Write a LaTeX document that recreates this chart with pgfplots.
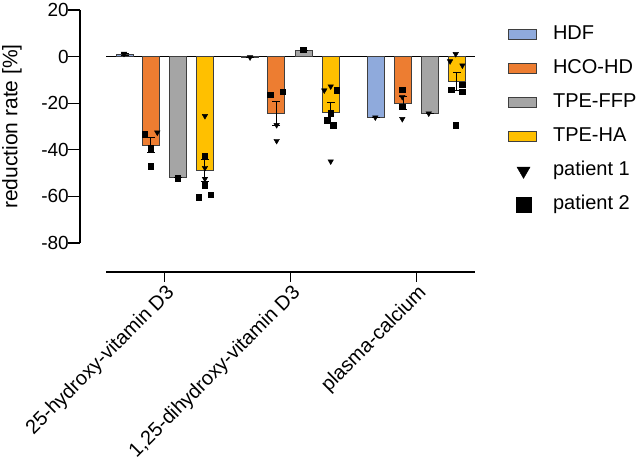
\documentclass[border=0pt]{standalone}
\usepackage{fontspec}
\setmainfont{Liberation Sans}
\usepackage{pgfplots}
\usepackage{pgfplotstable}
\pgfplotsset{compat=1.18}
\definecolor{cHDF}{HTML}{8FAADC}
\definecolor{cHCO}{HTML}{ED7D31}
\definecolor{cFFP}{HTML}{A5A5A5}
\definecolor{cHA}{HTML}{FFC000}
\definecolor{bdr}{HTML}{3F3F3F}
\pgfplotsset{
  boxleg/.style={legend image code/.code={\draw[##1] (0pt,-5pt) rectangle (28pt,5pt);}},
  markleg/.style={legend image code/.code={\draw[##1, only marks] plot coordinates {(15pt,0pt)};}},
  barst/.style={ybar, bar width=17pt, bar shift=0pt, draw=bdr, line width=1pt, forget plot,
    error bars/.cd, y dir=both, y explicit,
    error bar style={black, line width=1pt},
    error mark options={rotate=90, black, mark size=4pt, line width=1pt}}
}

\pgfplotstableread{
x y e
-0.319 1.0 0.4
0.677 -0.3 0
1.676 -26.1 0
}\tHDF
\pgfplotstableread{
x y e
-0.109 -38.0 3.3
0.883 -24.3 5.1
1.891 -20.0 2.7
}\tHCO
\pgfplotstableread{
x y e
0.105 -52.0 0
1.105 2.7 0
2.105 -24.4 0
}\tFFP
\pgfplotstableread{
x y e
0.319 -49.0 4.6
1.319 -24.0 4.3
2.319 -10.8 3.9
}\tHA
\pgfplotstableread{
x y
-0.323 1.2
-0.059 -32.6
0.319 -25.5
0.319 -47.8
0.319 -52.5
0.677 -0.3
0.888 -29.4
0.888 -36.2
1.266 -14.5
1.317 -12.8
1.317 -45.0
1.671 -26.1
1.885 -17.3
1.885 -26.8
2.095 -24.4
2.309 1.1
2.264 -2.0
2.362 -3.8
}\tPone
\pgfplotstableread{
x y
-0.157 -33.3
-0.109 -39.3
-0.109 -47.0
0.103 -52.3
0.319 -42.6
0.319 -55.3
0.269 -60.3
0.367 -59.4
0.838 -16.3
0.936 -15.2
1.100 2.9
1.365 -14.5
1.317 -24.4
1.285 -27.3
1.338 -29.4
1.885 -14.2
1.885 -21.6
2.362 -12.0
2.272 -14.2
2.362 -15.2
2.309 -29.4
}\tPtwo

\begin{document}
\begin{tikzpicture}
\path[use as bounding box] (0,0) rectangle (641pt,460pt);
% y axis
\begin{axis}[at={(80pt,217pt)}, anchor=south west, scale only axis,
  width=10pt, height=233pt, xmin=0, xmax=1, ymin=-80, ymax=20,
  hide x axis, axis y line*=left,
  axis line style={-, line width=1.2pt, black},
  ytick={-80,-60,...,20}, tick align=outside, major tick length=12pt,
  tick style={line width=1.2pt, black},
  /pgf/number format/assume math mode=true,
  y tick label style={font=\fontsize{19}{22}\selectfont, inner sep=1pt, xshift=2pt},
  ylabel={reduction rate [\%]},
  ylabel style={font=\fontsize{21}{24}\selectfont, at={(axis description cs:0,0.5)}, anchor=center, yshift=68pt},
  clip=false]
\addplot[draw=none] coordinates {(0.5,0)};
\draw[line width=1.2pt, black] (rel axis cs:0,0) -- (rel axis cs:0,1);
\end{axis}
% data axis
\begin{axis}[at={(106pt,188pt)}, anchor=south west, scale only axis,
  width=369pt, height=262pt, xmin=-0.466, xmax=2.462, ymin=-92.5, ymax=20,
  axis x line=bottom, axis y line=none,
  axis line style={-, line width=1.2pt, black},
  xtick={0,1,2},
  xticklabels={25-hydroxy-vitamin D3,{1,25-dihydroxy-vitamin D3},plasma-calcium},
  tick align=outside, major tick length=10pt,
  tick style={line width=1.2pt, black},
  x tick label style={rotate=45, anchor=north east, font=\fontsize{20}{24}\selectfont, inner sep=1pt},
  clip=false,
  legend style={at={(1.089,0.94)}, anchor=north west, draw=none, fill=none,
    font=\fontsize{20}{24}\selectfont, inner sep=0pt, row sep=16pt,
    nodes={inner sep=0pt, text height=14pt, text depth=4pt},
    column sep=16pt},
  legend cell align=left]
\addplot[black, line width=1.2pt, forget plot] coordinates {(-0.466,0) (2.462,0)};
\addplot[fill=cHDF, barst] table[x=x, y=y, y error=e] {\tHDF};
\addplot[fill=cHCO, barst] table[x=x, y=y, y error=e] {\tHCO};
\addplot[fill=cFFP, barst] table[x=x, y=y, y error=e] {\tFFP};
\addplot[fill=cHA, barst] table[x=x, y=y, y error=e] {\tHA};
\addplot[only marks, mark=triangle*, mark size=3.2pt, mark options={rotate=180, fill=black, draw=black}, forget plot] table[x=x, y=y] {\tPone};
\addplot[only marks, mark=square*, mark size=2.7pt, mark options={fill=black, draw=black}, forget plot] table[x=x, y=y] {\tPtwo};
\addlegendimage{fill=cHDF, draw=bdr, line width=1pt, boxleg}
\addlegendimage{fill=cHCO, draw=bdr, line width=1pt, boxleg}
\addlegendimage{fill=cFFP, draw=bdr, line width=1pt, boxleg}
\addlegendimage{fill=cHA, draw=bdr, line width=1pt, boxleg}
\addlegendimage{black, mark=triangle*, mark size=7.5pt, mark options={rotate=180, fill=black}, markleg}
\addlegendimage{black, mark=square*, mark size=7.5pt, mark options={fill=black}, markleg}
\legend{HDF,HCO-HD,TPE-FFP,TPE-HA,patient 1,patient 2}
\end{axis}
\end{tikzpicture}
\end{document}
